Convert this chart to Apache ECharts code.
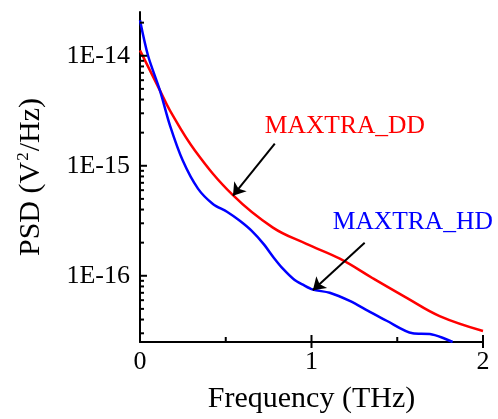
<!DOCTYPE html>
<html>
<head>
<meta charset="utf-8">
<script src="https://cdn.jsdelivr.net/npm/echarts@6/dist/echarts.min.js"></script>
<style>
  html, body { margin: 0; padding: 0; background: #fff; }
  #chart { width: 498px; height: 419px; }
</style>
</head>
<body>
<div id="chart"></div>
<script>
// MAXTRA_DD (red)
const ddFreq = [0, 0.116, 0.175, 0.32, 0.542, 0.775, 0.97, 1.165, 1.357, 1.555, 1.747, 2.0];
const ddPsd = [1.12e-14, 4.85e-15, 3.18e-15, 1.38e-15, 5.4e-16, 2.74e-16, 1.95e-16, 1.43e-16, 9.5e-17, 6.3e-17, 4.3e-17, 3.15e-17];

// MAXTRA_HD (blue)
const hdFreq = [0, 0.047, 0.116, 0.175, 0.25, 0.338, 0.425, 0.507, 0.582, 0.65, 0.72, 0.78, 0.833, 0.9, 0.95, 1.008, 1.106, 1.223, 1.33, 1.438, 1.59, 1.69, 1.76, 1.823];
const hdPsd = [2.1e-14, 1.0e-14, 4.85e-15, 2.32e-15, 1.11e-15, 6.2e-16, 4.5e-16, 3.82e-16, 3.16e-16, 2.57e-16, 1.95e-16, 1.46e-16, 1.16e-16, 9.2e-17, 8.3e-17, 7.5e-17, 7.0e-17, 5.9e-17, 4.8e-17, 3.9e-17, 3.0e-17, 2.95e-17, 2.75e-17, 2.5e-17];

// axis ticks
const yMajorTicks = [1e-16, 1e-15, 1e-14];
const yMinorTicks = [3e-17, 4e-17, 5e-17, 6e-17, 7e-17, 8e-17, 9e-17,
  2e-16, 3e-16, 4e-16, 5e-16, 6e-16, 7e-16, 8e-16, 9e-16,
  2e-15, 3e-15, 4e-15, 5e-15, 6e-15, 7e-15, 8e-15, 9e-15, 2e-14];
const xMajorTicks = [1, 2];
const xMinorTicks = [0.5, 1.5];

// annotations: label text, label anchor, arrow start, arrow tip
const ddNote = { text: 'MAXTRA_DD', pos: [0.728, 2.27e-15], from: [0.786, 1.59e-15], to: [0.542, 5.35e-16] };
const hdNote = { text: 'MAXTRA_HD', pos: [1.124, 3.07e-16], from: [1.31, 2.0e-16], to: [1.008, 7.4e-17] };

const Y_MIN = 2.5e-17, Y_MAX = 2.5e-14;
const FONT = 'Liberation Serif';

const chart = echarts.init(document.getElementById('chart'));

function zip(xs, ys) {
  return xs.map((x, i) => [x, ys[i]]);
}

function noteSeries(note, color) {
  return {
    markPoint: {
      silent: true,
      symbol: 'circle',
      symbolSize: 0,
      data: [{
        coord: note.pos,
        label: {
          show: true, position: 'right', distance: 0,
          formatter: note.text, color: color, fontSize: 25.5, fontFamily: FONT
        }
      }]
    },
    markLine: {
      silent: true,
      symbol: ['none', 'arrow'],
      symbolSize: 12,
      lineStyle: { color: '#000', width: 2, type: 'solid' },
      itemStyle: { color: '#000' },
      label: { show: false },
      emphasis: { disabled: true },
      data: [[{ coord: note.from }, { coord: note.to }]]
    }
  };
}

chart.setOption({
  animation: false,
  grid: { left: 140, right: 15, top: 12, bottom: 77, outerBoundsMode: 'none' },
  xAxis: {
    type: 'value',
    min: 0,
    max: 2,
    interval: 1,
    name: 'Frequency (THz)',
    nameLocation: 'middle',
    nameGap: 42,
    nameTextStyle: { fontSize: 30, fontFamily: FONT, color: '#000' },
    axisLine: { show: true, lineStyle: { color: '#000', width: 2 } },
    axisTick: { show: false },
    splitLine: { show: false },
    axisLabel: { margin: 7, fontSize: 26, fontFamily: FONT, color: '#000' }
  },
  yAxis: {
    type: 'log',
    min: Y_MIN,
    max: Y_MAX,
    name: '{n|PSD (V}{s|2}{n|/Hz)}',
    nameLocation: 'middle',
    nameGap: 92,
    nameTextStyle: {
      rich: {
        n: { fontSize: 30, fontFamily: FONT, color: '#000' },
        s: { fontSize: 17, fontFamily: FONT, color: '#000', verticalAlign: 'top', padding: [0, 1, 16, 1] }
      }
    },
    axisLine: { show: true, lineStyle: { color: '#000', width: 2 } },
    axisTick: { show: false },
    minorTick: { show: false },
    splitLine: { show: false },
    axisLabel: {
      margin: 10,
      fontSize: 26,
      fontFamily: FONT,
      color: '#000',
      formatter: function (v) {
        const e = Math.log10(v);
        if (Math.abs(e - Math.round(e)) < 1e-6) return '1E' + Math.round(e);
        return '';
      }
    }
  },
  series: [
    Object.assign({
      name: 'MAXTRA_DD',
      type: 'line',
      data: zip(ddFreq, ddPsd),
      smooth: 0.4,
      showSymbol: false,
      lineStyle: { color: '#ff0000', width: 2.5 },
      itemStyle: { color: '#ff0000' }
    }, noteSeries(ddNote, '#ff0000')),
    Object.assign({
      name: 'MAXTRA_HD',
      type: 'line',
      data: zip(hdFreq, hdPsd),
      smooth: 0.3,
      showSymbol: false,
      lineStyle: { color: '#0000ff', width: 2.5 },
      itemStyle: { color: '#0000ff' }
    }, noteSeries(hdNote, '#0000ff')),
    {
      // y ticks, pointing inward
      type: 'custom',
      silent: true,
      clip: false,
      z: 5,
      data: yMajorTicks.map(v => [0, v, 7]).concat(yMinorTicks.map(v => [0, v, 4])),
      renderItem: function (params, api) {
        const p = api.coord([api.value(0), api.value(1)]);
        const len = api.value(2);
        return {
          type: 'line',
          shape: { x1: p[0], y1: p[1], x2: p[0] + len, y2: p[1] },
          style: { stroke: '#000', lineWidth: 2 }
        };
      }
    },
    {
      // x ticks: major straddle the axis, minor inward
      type: 'custom',
      silent: true,
      clip: false,
      z: 5,
      data: xMajorTicks.map(v => [v, Y_MIN, 7, 6]).concat(xMinorTicks.map(v => [v, Y_MIN, 5, 0])),
      renderItem: function (params, api) {
        const p = api.coord([api.value(0), api.value(1)]);
        return {
          type: 'line',
          shape: { x1: p[0], y1: p[1] - api.value(2), x2: p[0], y2: p[1] + api.value(3) },
          style: { stroke: '#000', lineWidth: 2 }
        };
      }
    }
  ]
});
</script>
</body>
</html>
